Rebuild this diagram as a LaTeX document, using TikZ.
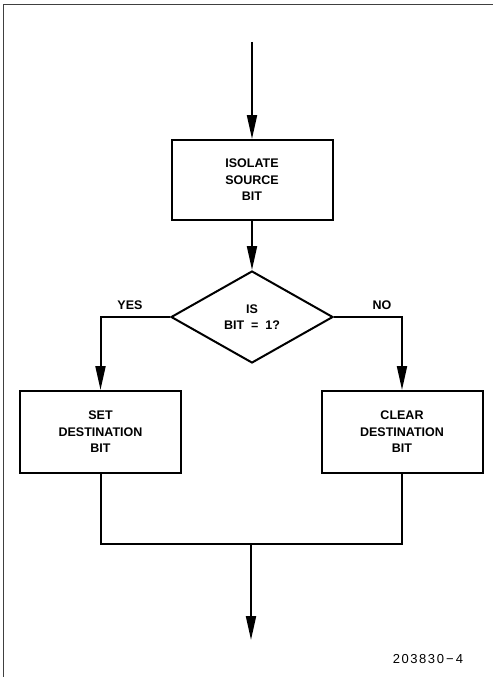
\documentclass[tikz,border=0pt]{standalone}
\usepackage{fontspec}
\setmainfont{Liberation Sans}
\newfontfamily\flowfont{Liberation Sans}
\newfontfamily\tagfont[LetterSpace=12]{Liberation Sans}
\usetikzlibrary{arrows.meta,shapes.geometric}

\tikzset{
  flowline/.style={line width=2pt},
  flowarrow/.style={flowline,-{Triangle[length=24pt,width=10pt]}},
  procbox/.style={draw,flowline,rectangle,minimum width=161pt,minimum height=80pt,
    inner sep=0pt,align=center,font=\flowfont\bfseries\fontsize{12.5}{16.5}\selectfont},
  testbox/.style={draw,flowline,diamond,minimum width=162pt,minimum height=92pt,
    inner sep=0pt,align=center,font=\flowfont\bfseries\fontsize{12.5}{16.5}\selectfont},
  branchtag/.style={font=\flowfont\bfseries\fontsize{12.5}{14}\selectfont}
}

\begin{document}
\begin{tikzpicture}[x=1pt,y=-1pt]
\useasboundingbox (0,0) rectangle (493,677);
% page frame
\draw[black!75,line width=1.6pt] (3.5,677) -- (3.5,4.5) -- (493,4.5);

\node[procbox] (isolate) at (252,180) {ISOLATE\\SOURCE\\BIT};
\node[testbox] (test) at (252,317) {IS\\BIT \ = \ 1?};
\node[procbox,minimum height=82pt] (setbit) at (100.5,432) {SET\\DESTINATION\\BIT};
\node[procbox,minimum height=82pt] (clearbit) at (402,432) {CLEAR\\DESTINATION\\BIT};

\coordinate (entry) at (252,42);
\coordinate (join) at (251,544);
\coordinate (exit) at (251,640);

\draw[flowarrow] (entry) -- (isolate.north);
\draw[flowarrow] (isolate) -- (test.north);
\draw[flowarrow] (test.west) -| (setbit.north);
\draw[flowarrow] (test.east) -| (clearbit.north);
\draw[flowline] (setbit.south) -- (setbit.south |- join) -- (clearbit.south |- join) -- (clearbit.south);
\draw[flowarrow] (join) -- (exit);

\node[branchtag] (yes) at (130,305) {YES};
\node[branchtag] (no) at (382,305) {NO};

\node[font=\tagfont\fontsize{13}{15}\selectfont] (figno) at (428,659) {203830\,\textminus\,4};
\end{tikzpicture}
\end{document}
